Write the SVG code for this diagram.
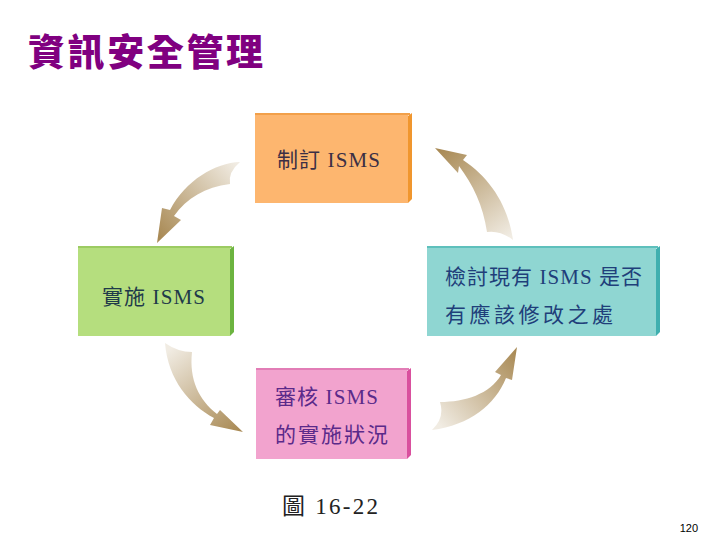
<svg xmlns="http://www.w3.org/2000/svg" width="720" height="540" viewBox="0 0 720 540">
<style>
.title{font-family:"Noto Sans CJK TC","Noto Sans CJK SC",sans-serif;font-weight:900;font-size:37px;fill:#800080}
.lbl{font-family:"Liberation Serif","Noto Sans CJK TC",serif;font-size:21px}
.cap{font-family:"Liberation Serif","Noto Sans CJK TC",serif;font-size:23px;fill:#222}
.pg{font-family:"Liberation Sans",sans-serif;font-size:11px;fill:#000}
</style>
<defs>
<linearGradient id="g1" gradientUnits="userSpaceOnUse" x1="240" y1="168" x2="160" y2="238"><stop offset="0" stop-color="#F1ECE3"/><stop offset="1" stop-color="#A98A55"/></linearGradient>
<linearGradient id="g2" gradientUnits="userSpaceOnUse" x1="505" y1="240" x2="440" y2="150"><stop offset="0" stop-color="#F1ECE3"/><stop offset="1" stop-color="#A98A55"/></linearGradient>
<linearGradient id="g3" gradientUnits="userSpaceOnUse" x1="175" y1="345" x2="240" y2="430"><stop offset="0" stop-color="#F1ECE3"/><stop offset="1" stop-color="#A98A55"/></linearGradient>
<linearGradient id="g4" gradientUnits="userSpaceOnUse" x1="435" y1="420" x2="515" y2="350"><stop offset="0" stop-color="#F1ECE3"/><stop offset="1" stop-color="#A98A55"/></linearGradient>
</defs>
<rect width="720" height="540" fill="#fff"/>
<text class="title" x="28" y="66" textLength="235">資訊安全管理</text>

<g id="connectors">
<path d="M240,162 C215,163 186,180 170,210 L162,208 L157,243 L181,220 L174,216 C187,198 205,187 230,184 Q228,172 240,162 Z" fill="url(#g1)"/>
<path d="M435,148 L467,155 L463,160 C490,178 508,205 513,240 Q500,230 487,232 C483,205 473,185 459,166 L458,173 Z" fill="url(#g2)"/>
<path d="M165,343 C168,380 190,405 214,418 L210,425 L243,432 L220,410 L217,414 C199,400 189,380 192,352 Q178,352 165,343 Z" fill="url(#g3)"/>
<path d="M517,347 L495,372 L501,375 C490,394 465,402 440,402 Q445,418 432,430 C470,425 495,405 506,378 L512,380 Z" fill="url(#g4)"/>
</g>

<g id="node-plan">
<rect x="255" y="113" width="153" height="90" fill="#FDB66F"/>
<rect x="255" y="113" width="155" height="2" fill="#F2A04A"/>
<polygon points="408,116 412,113 412,199 408,203" fill="#F0962E"/>
<text class="lbl" x="277" y="167" fill="#3B2F45" textLength="103">制訂 ISMS</text>
</g>

<g id="node-do">
<rect x="78" y="246" width="152" height="90" fill="#B5DE7E"/>
<rect x="78" y="246" width="154" height="2" fill="#9CCB62"/>
<polygon points="230,249 234,246 234,332 230,336" fill="#6CB440"/>
<text class="lbl" x="102" y="304" fill="#1F3A4A" textLength="103">實施 ISMS</text>
</g>

<g id="node-act">
<rect x="427" y="246" width="229" height="90" fill="#8FD6D2"/>
<rect x="427" y="246" width="231" height="2" fill="#5EC0BC"/>
<polygon points="656,249 660,246 660,332 656,336" fill="#3FAFAF"/>
<text class="lbl" x="445" y="284" fill="#1F3F7A" textLength="197">檢討現有 ISMS 是否</text>
<text class="lbl" x="445" y="322" fill="#1F3F7A" textLength="168">有應該修改之處</text>
</g>

<g id="node-check">
<rect x="256" y="368" width="151" height="91" fill="#F2A3CE"/>
<rect x="256" y="368" width="153" height="2" fill="#E27DB6"/>
<polygon points="407,371 411,368 411,455 407,459" fill="#D9509E"/>
<text class="lbl" x="275" y="404" fill="#5B2A8A" textLength="103">審核 ISMS</text>
<text class="lbl" x="275" y="442" fill="#5B2A8A" textLength="113">的實施狀況</text>
</g>

<text class="cap" x="282" y="514" textLength="96">圖 16-22</text>
<text class="pg" x="698" y="532" text-anchor="end">120</text>
</svg>
